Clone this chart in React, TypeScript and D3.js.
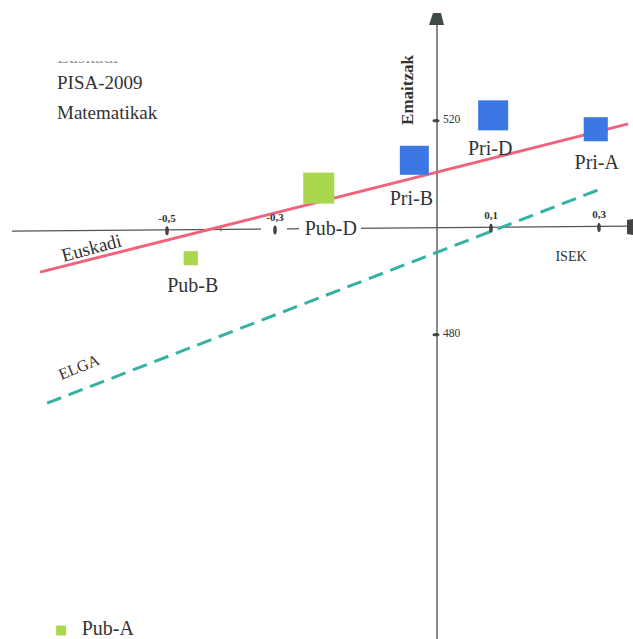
import React from "react";
import * as d3 from "d3";

// ikastetxe motak: ISEK (x) eta matematikako emaitza (y)
const schools = ["Pri-D", "Pri-A", "Pri-B", "Pub-D", "Pub-B", "Pub-A"];
const isek = [0.104, 0.294, -0.042, -0.219, -0.456, -0.696];
const emaitzak = [521.0, 518.4, 512.6, 507.4, 494.3, 424.7];
const ikasleak = [90, 58, 84, 96, 20, 10];

// erregresio lerroak (muturrak)
const euskadiX = [-0.735, 0.354];
const euskadiY = [491.7, 519.4];
const elgaX = [-0.722, 0.302];
const elgaY = [467.2, 507.2];

const xTicks = [-0.5, -0.3, 0.1, 0.3];
const xTickLabels = ["-0,5", "-0,3", "0,1", "0,3"];
const yTicks = [520, 480];

const W = 633;
const H = 639;

const labelOffset: Record<string, [number, number, string]> = {
  "Pri-D": [-3, 39.5, "middle"],
  "Pri-A": [1, 40, "middle"],
  "Pri-B": [-3, 44.5, "middle"],
  "Pub-D": [-14, 47, "start"],
  "Pub-B": [2, 34, "middle"],
  "Pub-A": [20.5, 4.5, "start"],
};

export default function App() {
  const x = d3.scaleLinear().domain([0, 0.1]).range([437, 491]);
  const y = d3.scaleLinear().domain([480, 520]).range([334.7, 120.7]);
  const side = d3.scaleSqrt().domain([0, 96]).range([0, 31]);

  const x0 = x(0);
  const y0 = y(500);
  const axisY = (px: number) => y0 + (x0 - px) * 0.008;

  const line = d3
    .line<[number, number]>()
    .x((d) => x(d[0]))
    .y((d) => y(d[1]));

  const euskadi = line(euskadiX.map((v, i) => [v, euskadiY[i]]) as [number, number][]);
  const elga = line(elgaX.map((v, i) => [v, elgaY[i]]) as [number, number][]);

  const ink = "#333";

  return (
    <svg
      width={W}
      height={H}
      style={{
        position: "absolute",
        left: 0,
        top: 0,
        background: "#fff",
        fontFamily: "'Liberation Serif', 'DejaVu Serif', serif",
      }}
    >
      <defs>
        <clipPath id="cut">
          <rect x={40} y={61} width={150} height={5} />
        </clipPath>
      </defs>

      {/* izenburua (goiko lerroa ebakita) */}
      <g clipPath="url(#cut)">
        <text x={57} y={63} fontSize={19} fill="#999">
          Euskadi
        </text>
      </g>
      <text x={57} y={89} fontSize={19} fill={ink}>
        PISA-2009
      </text>
      <text x={57} y={119} fontSize={19} fill={ink}>
        Matematikak
      </text>

      {/* x ardatza */}
      <line x1={12} y1={axisY(12)} x2={630} y2={axisY(630)} stroke="#555" strokeWidth={1.4} />
      <path d="M627,220 L633,219 L633,235 L627,234 Z" fill="#444" />
      <line x1={x(-0.4)} y1={axisY(x(-0.4)) - 2} x2={x(-0.4)} y2={axisY(x(-0.4)) + 2} stroke="#555" strokeWidth={1} />

      {/* y ardatza */}
      <line x1={x0} y1={20} x2={x0} y2={H} stroke="#555" strokeWidth={1.4} />
      <path d={`M${x0 - 4},13 L${x0 + 4},13 L${x0 + 7},25 L${x0 - 8},25 Z`} fill="#3f4a48" />

      {/* lerroak */}
      <path d={euskadi ?? ""} stroke="#f0637f" strokeWidth={3} fill="none" />
      <path d={elga ?? ""} stroke="#35b2a2" strokeWidth={3} fill="none" strokeDasharray="15 8" />

      {/* etiketa atzeko zuria ardatzean */}
      <rect x={261} y={axisY(270) - 3} width={26} height={6} fill="#fff" />
      <rect x={299} y={axisY(330) - 3} width={62} height={6} fill="#fff" />

      {xTicks.map((t, i) => (
        <g key={t}>
          <ellipse cx={x(t)} cy={axisY(x(t)) + 1} rx={1.8} ry={4.5} fill="#444" />
          <text
            x={x(t)}
            y={axisY(x(t)) - 8}
            fontSize={11}
            fontWeight={600}
            fill={ink}
            textAnchor="middle"
          >
            {xTickLabels[i]}
          </text>
        </g>
      ))}

      {yTicks.map((t) => (
        <g key={t}>
          <ellipse cx={x0 - 1} cy={y(t)} rx={3.5} ry={1.6} fill="#444" />
          <text x={x0 + 6} y={y(t)} fontSize={11.5} fill={ink} dominantBaseline="middle">
            {t}
          </text>
        </g>
      ))}

      <text
        transform={`translate(413,90) rotate(-90)`}
        fontSize={17}
        fontWeight={600}
        fill={ink}
        textAnchor="middle"
      >
        Emaitzak
      </text>
      <text x={571} y={261} fontSize={14} fill={ink} textAnchor="middle">
        ISEK
      </text>

      <text transform="translate(93,254) rotate(-15)" fontSize={19} fill={ink} textAnchor="middle">
        Euskadi
      </text>
      <text transform="translate(81,372) rotate(-22)" fontSize={16} fill={ink} textAnchor="middle">
        ELGA
      </text>

      {/* puntuak */}
      {schools.map((s, i) => {
        const cx = x(isek[i]);
        const cy = y(emaitzak[i]);
        const a = side(ikasleak[i]);
        const [dx, dy, anchor] = labelOffset[s];
        const pri = s.startsWith("Pri");
        return (
          <g key={s}>
            <rect
              x={cx - a / 2}
              y={cy - a / 2}
              width={a}
              height={a}
              fill={pri ? "#3b78e3" : "#a9d84f"}
            />
            <text
              x={cx + dx}
              y={cy + dy}
              fontSize={20}
              fill={ink}
              textAnchor={anchor}
            >
              {s}
            </text>
          </g>
        );
      })}
    </svg>
  );
}
